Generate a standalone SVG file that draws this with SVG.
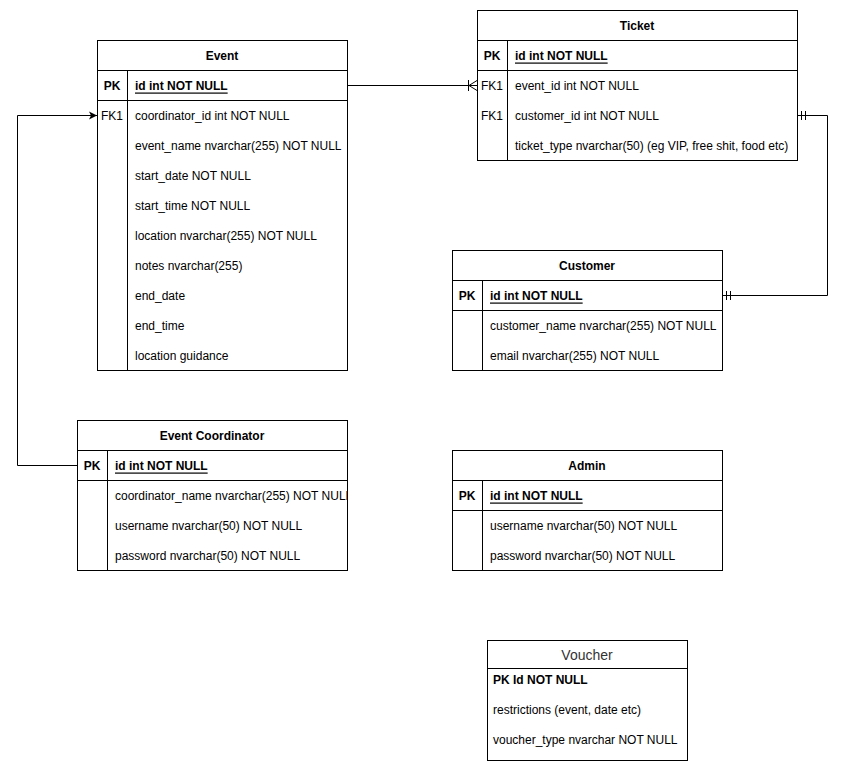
<svg xmlns="http://www.w3.org/2000/svg" width="848" height="770" viewBox="0 0 848 770">
<style>
text{font-family:"Liberation Sans",Arial,Helvetica,sans-serif;font-size:12px;fill:#000;dominant-baseline:central}
.h{font-weight:bold;text-anchor:middle}
.pk{text-anchor:middle}
.b{font-weight:bold}
.u{text-decoration:underline}
.box{fill:#fff;stroke:#000;stroke-width:1}
.ln{stroke:#000;stroke-width:1;fill:none}
</style>
<defs>
<clipPath id="ecClip"><rect x="77" y="420" width="270" height="150"/></clipPath>
<marker id="arrow" markerWidth="10" markerHeight="10" refX="9" refY="5" orient="auto" markerUnits="userSpaceOnUse">
<path d="M1,1 L9,5 L1,9 L3,5 Z" fill="#000"/>
</marker>
</defs>
<g id="connectors">
<path class="ln" d="M347.5,85.5 H477"/>
<path class="ln" d="M468.5,80 V91 M469,85.5 L477,80.5 M469,85.5 L477,90.5"/>
<path class="ln" d="M797,115.5 H827.5 V295.5 H722"/>
<path class="ln" d="M801.5,111 V120 M805.5,111 V120 M726.5,291 V300 M730.5,291 V300"/>
<path class="ln" d="M77,465.5 H17.5 V115.5 H97" marker-end="url(#arrow)"/>
</g>
<g id="event">
<rect class="box" x="97.5" y="40.5" width="250" height="330"/>
<path class="ln" d="M97.5,70.5 H347.5 M97.5,100.5 H347.5 M127.5,70.5 V370.5"/>
<text class="h" x="222" y="55.5">Event</text>
<text class="pk b" x="112" y="85.5">PK</text>
<text class="b u" x="135" y="85.5">id int NOT NULL</text>
<text class="pk" x="112" y="115.5">FK1</text>
<text x="135" y="115.5">coordinator_id int NOT NULL</text>
<text x="135" y="145.5">event_name nvarchar(255) NOT NULL</text>
<text x="135" y="175.5">start_date NOT NULL</text>
<text x="135" y="205.5">start_time NOT NULL</text>
<text x="135" y="235.5">location nvarchar(255) NOT NULL</text>
<text x="135" y="265.5">notes nvarchar(255)</text>
<text x="135" y="295.5">end_date</text>
<text x="135" y="325.5">end_time</text>
<text x="135" y="355.5">location guidance</text>
</g>
<g id="ticket">
<rect class="box" x="477.5" y="10.5" width="320" height="150"/>
<path class="ln" d="M477.5,40.5 H797.5 M477.5,70.5 H797.5 M507.5,40.5 V160.5"/>
<text class="h" x="637" y="25.5">Ticket</text>
<text class="pk b" x="492" y="55.5">PK</text>
<text class="b u" x="515" y="55.5">id int NOT NULL</text>
<text class="pk" x="492" y="85.5">FK1</text>
<text x="515" y="85.5">event_id int NOT NULL</text>
<text class="pk" x="492" y="115.5">FK1</text>
<text x="515" y="115.5">customer_id int NOT NULL</text>
<text x="515" y="145.5">ticket_type nvarchar(50) (eg VIP, free shit, food etc)</text>
</g>
<g id="customer">
<rect class="box" x="452.5" y="250.5" width="270" height="120"/>
<path class="ln" d="M452.5,280.5 H722.5 M452.5,310.5 H722.5 M482.5,280.5 V370.5"/>
<text class="h" x="587" y="265.5">Customer</text>
<text class="pk b" x="467" y="295.5">PK</text>
<text class="b u" x="490" y="295.5">id int NOT NULL</text>
<text x="490" y="325.5">customer_name nvarchar(255) NOT NULL</text>
<text x="490" y="355.5">email nvarchar(255) NOT NULL</text>
</g>
<g id="event-coordinator">
<rect class="box" x="77.5" y="420.5" width="270" height="150"/>
<path class="ln" d="M77.5,450.5 H347.5 M77.5,480.5 H347.5 M107.5,450.5 V570.5"/>
<text class="h" x="212" y="435.5">Event Coordinator</text>
<text class="pk b" x="92" y="465.5">PK</text>
<text class="b u" x="115" y="465.5">id int NOT NULL</text>
<text x="115" y="495.5" clip-path="url(#ecClip)">coordinator_name nvarchar(255) NOT NULL</text>
<text x="115" y="525.5">username nvarchar(50) NOT NULL</text>
<text x="115" y="555.5">password nvarchar(50) NOT NULL</text>
</g>
<g id="admin">
<rect class="box" x="452.5" y="450.5" width="270" height="120"/>
<path class="ln" d="M452.5,480.5 H722.5 M452.5,510.5 H722.5 M482.5,480.5 V570.5"/>
<text class="h" x="587" y="465.5">Admin</text>
<text class="pk b" x="467" y="495.5">PK</text>
<text class="b u" x="490" y="495.5">id int NOT NULL</text>
<text x="490" y="525.5">username nvarchar(50) NOT NULL</text>
<text x="490" y="555.5">password nvarchar(50) NOT NULL</text>
</g>
<g id="voucher">
<rect class="box" x="487.5" y="640.5" width="200" height="120"/>
<path class="ln" d="M487.5,668.5 H687.5"/>
<text x="587" y="654.5" style="font-size:14px;text-anchor:middle;fill:#333">Voucher</text>
<text class="b" x="493" y="679.5">PK Id NOT NULL</text>
<text x="493" y="709.5">restrictions (event, date etc)</text>
<text x="493" y="739.5">voucher_type nvarchar NOT NULL</text>
</g>
</svg>
